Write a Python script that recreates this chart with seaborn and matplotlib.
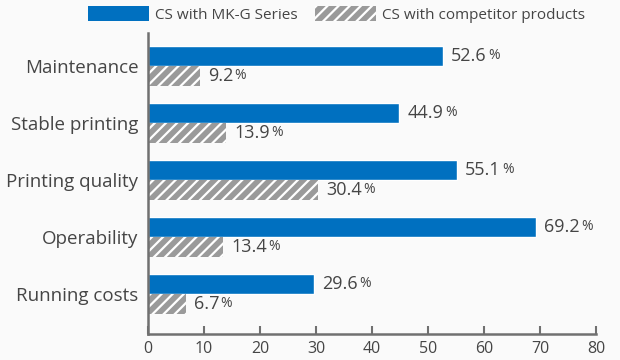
import pandas as pd
import seaborn as sns
import matplotlib.pyplot as plt
from matplotlib.patches import Patch

categories = ["Maintenance", "Stable printing", "Printing quality", "Operability", "Running costs"]
series = ["CS with MK-G Series", "CS with competitor products"]
mkg_values = [52.6, 44.9, 55.1, 69.2, 29.6]
competitor_values = [9.2, 13.9, 30.4, 13.4, 6.7]
x_ticks = [0, 10, 20, 30, 40, 50, 60, 70, 80]

blue = "#0070c0"
hatch_grey = "#9a9a9a"
text_col = "#454545"
spine_col = "#707070"
bg = "#fafafa"

df = pd.DataFrame({
    "category": categories * 2,
    "value": mkg_values + competitor_values,
    "series": [series[0]] * len(categories) + [series[1]] * len(categories),
})

sns.set_theme(style="ticks")
plt.rcParams['font.family'] = ['Open Sans', 'DejaVu Sans']
plt.rcParams['hatch.linewidth'] = 1.6
plt.rcParams['text.color'] = text_col

fig = plt.figure(figsize=(6.2, 3.6), dpi=100, facecolor=bg)
ax = fig.add_axes([148 / 620, 26 / 360, 448 / 620, 301 / 360])
ax.set_facecolor(bg)

sns.barplot(data=df, x="value", y="category", hue="series", orient="h",
            palette=[blue, hatch_grey], width=0.7, saturation=1,
            legend=False, ax=ax)

for p in ax.containers[1].patches:
    p.set_hatch("///")
    p.set_edgecolor("white")
    p.set_linewidth(0)

for cont in ax.containers:
    for p in cont.patches:
        w = p.get_width()
        yc = p.get_y() + p.get_height() / 2
        t = ax.annotate(f"{w:.1f}", xy=(w, yc), xytext=(6, 0), textcoords="offset points",
                        va="center", ha="left", fontsize=13, color=text_col)
        ax.annotate("%", xy=(1, 0), xycoords=t, xytext=(1, 1.5), textcoords="offset points",
                    va="bottom", ha="left", fontsize=10, color=text_col)

ax.set_xlim(0, 80)
ax.set_ylim(4.70, -0.58)
ax.set_xticks(x_ticks)
ax.set_xlabel("")
ax.set_ylabel("")
ax.tick_params(axis="x", direction="in", length=6, width=1.5, color=spine_col,
               labelsize=11.5, labelcolor=text_col, pad=5)
ax.tick_params(axis="y", length=0, labelsize=13.5, labelcolor=text_col, pad=7)
for s in ["top", "right"]:
    ax.spines[s].set_visible(False)
for s in ["left", "bottom"]:
    ax.spines[s].set_color(spine_col)
    ax.spines[s].set_linewidth(1.8)

handles = [
    Patch(facecolor=blue, edgecolor=blue, linewidth=0, label=series[0]),
    Patch(facecolor=hatch_grey, edgecolor="white", linewidth=0, hatch="///", label=series[1]),
]
fig.legend(handles=handles, loc="upper left", bbox_to_anchor=(88 / 620, 1 - 6 / 360),
           ncol=2, frameon=False, fontsize=11, handlelength=4.0, handleheight=1.1,
           handletextpad=0.4, columnspacing=1.1, borderaxespad=0, borderpad=0,
           labelcolor=text_col)

fig.savefig("out.png", dpi=100, facecolor=bg)
